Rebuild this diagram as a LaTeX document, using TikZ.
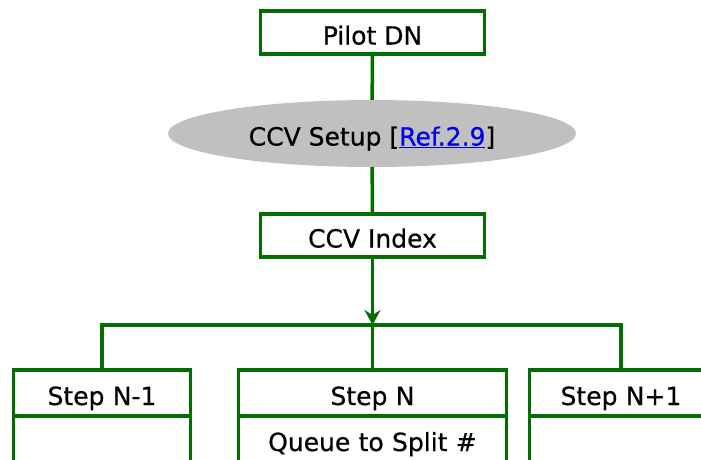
\documentclass[tikz,border=0pt]{standalone}
\usepackage{fontspec}
\setmainfont{DejaVu Sans}[FakeBold=0.5]
\usetikzlibrary{positioning, arrows.meta, shapes.geometric}

\definecolor{flowgreen}{RGB}{0,110,0}
\definecolor{setupgray}{RGB}{192,192,192}
\definecolor{refblue}{RGB}{0,0,238}

\begin{document}
\begin{tikzpicture}[
  x=1pt, y=-1pt,
  font=\fontsize{25}{29}\selectfont,
  txt/.style  ={text height=24pt, text depth=0pt},
  box/.style  ={txt, draw=flowgreen, line width=3.5pt, fill=white, minimum width=224pt, minimum height=43pt, inner sep=0pt},
  setup/.style={txt, ellipse, fill=setupgray, minimum width=408pt, minimum height=67pt, inner sep=0pt},
  stephead/.style={txt, draw=flowgreen, line width=3.5pt, fill=white, minimum height=46pt, inner sep=0pt, text width=#1, align=center},
  stepbody/.style={text height=10pt, text depth=0pt, draw=flowgreen, line width=3.5pt, fill=white, minimum height=60pt, inner sep=0pt, text width=#1, align=center},
  link/.style ={draw=flowgreen, line width=3.5pt},
  flow/.style ={-{Stealth[length=15pt, width=16pt, inset=5pt]}, draw=flowgreen, line width=3.5pt},
]
\useasboundingbox (0,0) rectangle (701,459);
\clip (0,0) rectangle (701,459);

% ---------- top chain ----------
\node[box] (pilot) at (372.5,32.5) {Pilot DN};
\node[setup] (setup) at (372,133.5) {CCV Setup [\textcolor{refblue}{\underline{Ref.2.9}}]};
\node[box] (index) at (372.5,235.5) {CCV Index};

\draw[link] (pilot) -- (setup);
\draw[link] (setup) -- (index);

% ---------- steps ----------
\node[stephead=177pt] (hprev) at (102,393) {Step N-1};
\node[stephead=268pt] (hcur)  at (372.5,393) {Step N};
\node[stephead=183pt] (hnext) at (621,393) {Step N+1};
\node[stepbody=177pt, below=-3.5pt of hprev] (bprev) {};
\node[stepbody=268pt, below=-3.5pt of hcur]  (bcur)  {Queue to Split \#};
\node[stepbody=183pt, below=-3.5pt of hnext] (bnext) {};

% ---------- fork ----------
\coordinate (fork) at (372.5,325);
\draw[link] (hprev.north) -- (hprev.north |- fork) -- (hnext.north |- fork) -- (hnext.north);
\draw[link] (hcur.north) -- (fork);
\draw[flow] (index) -- (fork);

\end{tikzpicture}
\end{document}
